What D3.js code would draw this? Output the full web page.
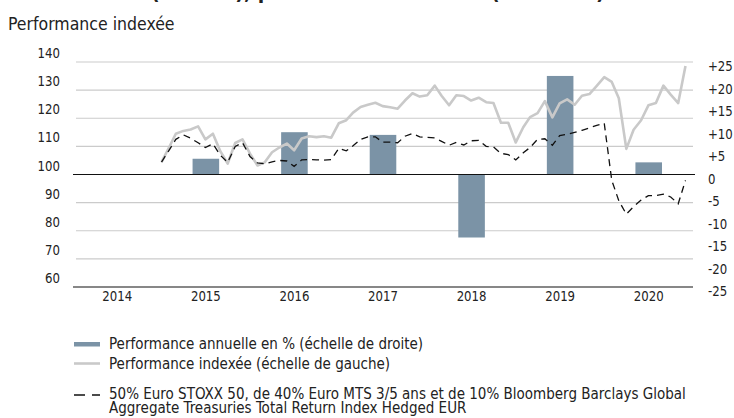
<!DOCTYPE html>
<html>
<head>
  <meta charset="utf-8">
  <title>Performance indexée</title>
  <script src="https://cdn.jsdelivr.net/npm/d3@7"></script>
  <style>
    body { margin: 0; background: #fff; }
    text { font-family: "DejaVu Sans Condensed", "DejaVu Sans", sans-serif; fill: #222; }
  </style>
</head>
<body>
<script>
// années (barres + libellés de l'axe)
var years = ["2014", "2015", "2016", "2017", "2018", "2019", "2020"];
// performance annuelle en % (échelle de droite)
var annualPerf = [null, 3.5, 9.4, 8.8, -14.0, 21.9, 2.7];

// mois des séries indexées
var months = [
  "2015-01","2015-02","2015-03","2015-04","2015-05","2015-06","2015-07","2015-08","2015-09","2015-10","2015-11","2015-12",
  "2016-01","2016-02","2016-03","2016-04","2016-05","2016-06","2016-07","2016-08","2016-09","2016-10","2016-11","2016-12",
  "2017-01","2017-02","2017-03","2017-04","2017-05","2017-06","2017-07","2017-08","2017-09","2017-10","2017-11","2017-12",
  "2018-01","2018-02","2018-03","2018-04","2018-05","2018-06","2018-07","2018-08","2018-09","2018-10","2018-11","2018-12",
  "2019-01","2019-02","2019-03","2019-04","2019-05","2019-06","2019-07","2019-08","2019-09","2019-10","2019-11","2019-12",
  "2020-01","2020-02","2020-03","2020-04","2020-05","2020-06","2020-07","2020-08","2020-09","2020-10","2020-11","2020-12"
];
// performance indexée (échelle de gauche)
var indexed = [
  104.4, 109.6, 114.5, 115.5, 116.0, 117.1, 112.5, 114.5, 108.2, 103.9, 111.2, 112.5,
  107.4, 103.2, 104.3, 107.9, 109.6, 111.0, 108.6, 112.8, 113.6, 113.3, 113.6, 113.1,
  118.2, 119.3, 122.0, 124.0, 124.8, 125.5, 124.3, 123.9, 123.4, 126.3, 128.9, 127.7,
  128.2, 131.6, 128.0, 124.6, 128.2, 127.9, 126.3, 127.3, 125.7, 125.4, 118.4, 118.4,
  111.4, 116.8, 120.4, 121.8, 126.1, 120.3, 125.3, 126.7, 124.8, 128.0, 128.6, 131.5,
  134.6, 132.9, 127.1, 109.1, 115.9, 119.3, 124.6, 125.4, 131.6, 128.4, 125.4, 138.6
];
// indice de référence (pointillés)
var benchmark = [
  104.4, 108.6, 112.5, 114.1, 112.9, 111.3, 109.6, 110.9, 106.8, 104.3, 110.0, 111.3,
  106.4, 104.1, 103.8, 104.5, 105.0, 104.8, 102.9, 105.2, 105.3, 105.2, 105.1, 105.3,
  109.3, 108.4, 110.2, 112.5, 113.4, 113.4, 111.5, 111.5, 111.3, 113.6, 114.6, 113.4,
  113.2, 113.0, 111.8, 110.4, 111.4, 110.5, 112.0, 112.1, 110.0, 109.8, 107.5, 107.1,
  105.2, 107.7, 109.6, 112.5, 112.7, 110.4, 113.8, 114.3, 115.0, 115.7, 116.6, 117.5,
  118.2, 97.9, 90.7, 85.9, 88.6, 90.9, 92.5, 92.5, 93.0, 92.0, 89.6, 97.9
];

var leftTicks = [60, 70, 80, 90, 100, 110, 120, 130, 140];
var rightTicks = [-25, -20, -15, -10, -5, 0, 5, 10, 15, 20, 25];

var legendLabels = [
  "Performance annuelle en % (échelle de droite)",
  "Performance indexée (échelle de gauche)",
  "50% Euro STOXX 50, de 40% Euro MTS 3/5 ans et de 10% Bloomberg Barclays Global",
  "Aggregate Treasuries Total Return Index Hedged EUR"
];

var width = 734, height = 418;
var plot = { left: 73, right: 693, top: 62, bottom: 287 };
var barColor = "#7b93a6";
var lineColor = "#c9c9c9";
var gridColor = "#cbcbcb";

var svg = d3.select("body").append("svg")
  .attr("width", width).attr("height", height);

// titre (coupé par le bord supérieur)
svg.append("text")
  .attr("x", 8).attr("y", -1)
  .attr("font-size", "21px").attr("font-weight", "bold")
  .text("Performance (en EUR), performance indexée (base 100)");

svg.append("text")
  .attr("x", 8).attr("y", 30)
  .attr("font-size", "17.5px")
  .text("Performance indexée");

// échelles
var xBand = d3.scaleBand().domain(years)
  .range([plot.left, plot.right]).paddingInner(0.7).paddingOuter(0.35);
var xTime = d3.scaleTime()
  .domain([new Date(2014, 0, 1), new Date(2021, 0, 1)])
  .range([plot.left, plot.right]);
var yLeft = d3.scaleLinear().domain([60, 140]).range([plot.bottom, plot.top]);
var yRight = d3.scaleLinear().domain([-25, 25]).range([plot.bottom, plot.top]);

// grille
svg.append("g").selectAll("line")
  .data(leftTicks.filter(function(d) { return d !== 60 && d !== 100; }))
  .enter().append("line")
  .attr("x1", plot.left + 3).attr("x2", plot.right)
  .attr("y1", function(d) { return yLeft(d); })
  .attr("y2", function(d) { return yLeft(d); })
  .attr("stroke", gridColor).attr("stroke-width", 1.2);

// axe gauche (libellés au-dessus des lignes)
var axisL = svg.append("g")
  .attr("transform", "translate(" + 60 + ",0)")
  .call(d3.axisLeft(yLeft).tickValues(leftTicks).tickSize(0).tickPadding(0));
axisL.select(".domain").remove();
axisL.selectAll("text")
  .attr("font-size", "14.5px").attr("dy", "-4.5px")
  .attr("transform", "scale(0.9,1)")
  .style("font-family", null).attr("fill", "#222");

// axe droit
var axisR = svg.append("g")
  .attr("transform", "translate(" + 708 + ",0)")
  .call(d3.axisRight(yRight).tickValues(rightTicks).tickSize(0).tickPadding(0)
    .tickFormat(function(d) { return d > 0 ? "+" + d : String(d); }));
axisR.select(".domain").remove();
axisR.selectAll("text")
  .attr("font-size", "14.5px").attr("dy", "8.8px")
  .attr("transform", "scale(0.9,1)")
  .style("font-family", null).attr("fill", "#222");

// barres
svg.append("g").selectAll("rect")
  .data(years.map(function(y, i) { return { year: y, v: annualPerf[i] }; })
    .filter(function(d) { return d.v !== null; }))
  .enter().append("rect")
  .attr("x", function(d) { return xBand(d.year); })
  .attr("width", xBand.bandwidth())
  .attr("y", function(d) { return yRight(Math.max(0, d.v)); })
  .attr("height", function(d) { return Math.abs(yRight(d.v) - yRight(0)); })
  .attr("fill", barColor);

// lignes
var parseMonth = d3.timeParse("%Y-%m");
var dates = months.map(parseMonth);

svg.append("path")
  .datum(indexed)
  .attr("fill", "none").attr("stroke", lineColor).attr("stroke-width", 2.6)
  .attr("stroke-linejoin", "round")
  .attr("d", d3.line()
    .x(function(d, i) { return xTime(dates[i]); })
    .y(function(d) { return yLeft(d); }));

svg.append("path")
  .datum(benchmark)
  .attr("fill", "none").attr("stroke", "#111").attr("stroke-width", 1.3)
  .attr("stroke-dasharray", "7,5")
  .attr("d", d3.line()
    .x(function(d, i) { return xTime(dates[i]); })
    .y(function(d) { return yLeft(d); }));

// ligne 100 / 0
svg.append("line")
  .attr("x1", plot.left).attr("x2", plot.right + 2)
  .attr("y1", yLeft(100)).attr("y2", yLeft(100))
  .attr("stroke", "#111").attr("stroke-width", 1.2);

// axe des x
svg.append("line")
  .attr("x1", plot.left).attr("x2", plot.right)
  .attr("y1", plot.bottom).attr("y2", plot.bottom)
  .attr("stroke", "#111").attr("stroke-width", 1.2);

var axisX = svg.append("g")
  .attr("transform", "translate(0," + plot.bottom + ")")
  .call(d3.axisBottom(xBand).tickSize(0));
axisX.select(".domain").remove();
axisX.selectAll("text")
  .attr("font-size", "14.5px").attr("y", 14).attr("dy", 0)
  .attr("transform", "scale(0.9,1)")
  .style("font-family", null).attr("fill", "#222");

// légende
var leg = svg.append("g");
leg.append("rect").attr("x", 74).attr("y", 342).attr("width", 26).attr("height", 4.5).attr("fill", barColor);
leg.append("line").attr("x1", 74).attr("x2", 100).attr("y1", 363.5).attr("y2", 363.5)
  .attr("stroke", lineColor).attr("stroke-width", 2.6);
leg.append("line").attr("x1", 74).attr("x2", 100).attr("y1", 395).attr("y2", 395)
  .attr("stroke", "#111").attr("stroke-width", 1.3).attr("stroke-dasharray", "11,7");

var legY = [349.3, 368.5, 398.5, 413];
leg.selectAll("text.lg")
  .data(legendLabels)
  .enter().append("text")
  .attr("class", "lg")
  .attr("x", 109)
  .attr("y", function(d, i) { return legY[i]; })
  .attr("font-size", "15px")
  .text(function(d) { return d; });
</script>
</body>
</html>
